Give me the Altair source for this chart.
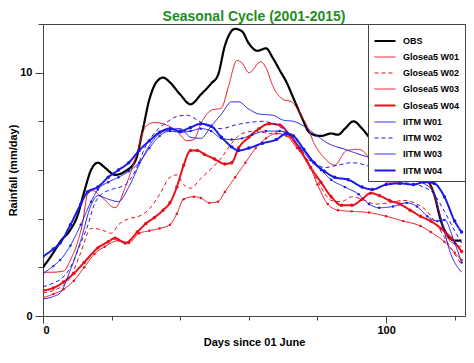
import altair as alt
import pandas as pd

series_names = ["OBS", "Glosea5 W01", "Glosea5 W02", "Glosea5 W03", "Glosea5 W04",
                "IITM W01", "IITM W02", "IITM W03", "IITM W04"]

obs_days = [0,3,5,8,10,12,14,16,18,21,24,27,29,31,33,35,37,40,43,46,49,51,53,56,58,60,62.5,65,67,69,71,73,75,78,81,84,86,88,90.5,93,96,99,102,105,107,110,112,114,116,118,120,122]
obs_vals = [2.0,2.6,3.05,3.55,4.1,5.1,6.0,6.3,6.1,5.8,5.95,6.4,7.6,8.9,9.6,9.8,9.6,9.1,8.7,9.1,9.55,9.9,11.1,11.8,11.7,11.2,10.9,11.0,10.6,10.1,9.6,8.95,8.3,7.5,7.4,7.5,7.45,7.7,8.0,7.7,7.2,6.9,6.2,5.6,5.7,5.85,5.6,5.0,3.9,3.3,3.1,3.1]

g1_days = [0,3,6,8,10,11.5,13,14.5,17,21,24,27,30,32.5,36,39,42,44,46,49,52,54,56.5,58,60,63.5,65,67,70,72.5,75,77,79,82,85,88.5,92,95,98,101,104,108,111,113.5,115.5,118,120,122]
g1_vals = [1.8,1.8,1.85,2.3,3.0,3.8,5.0,5.15,4.9,4.45,5.3,6.5,7.8,7.95,7.85,7.6,7.2,7.25,7.9,8.45,8.55,9.4,10.5,10.4,10.0,10.45,10.2,9.45,8.9,8.8,8.3,7.8,7.1,6.5,6.2,6.8,6.85,6.5,5.6,5.5,5.5,5.65,5.6,5.2,4.25,3.2,2.95,2.85]

g2_days = [0,4,8,11,14,17,20,22,25,28,31,34,37,39,41,43,46,49,52,55,58,62,66,69,72,75,78,81,84,87,90,93,97,101,105,109,112,115,118,122]
g2_vals = [0.95,1.1,1.6,2.6,3.6,3.55,3.4,3.75,4.0,4.1,4.4,5.0,5.7,5.8,5.4,5.25,5.65,6.05,6.5,7.1,7.5,7.6,7.5,7.6,7.4,6.9,6.1,5.3,4.75,4.7,4.9,4.8,4.6,4.65,4.75,4.6,4.3,3.7,3.0,2.1]

g3_days = [0,3,6,9,12,15,18,22,25,28,31,34,37,39,41,44,46,48.5,51,53,56,59,62,65,68,71,74,77,80,83,86,90,95,100,105,110,113,117,120,122]
g3_vals = [0.75,0.9,1.1,1.45,2.0,2.55,2.85,3.1,3.0,3.4,3.5,3.6,3.75,4.2,4.8,4.9,4.85,4.65,4.7,5.1,5.7,6.3,6.9,7.3,7.5,7.4,6.9,6.4,5.4,4.6,4.35,4.3,4.25,4.1,3.9,3.7,3.45,3.05,2.6,2.3]

g4_days = [0,3,6,9,12,16,19,21,24,27.5,30,32.5,35,37,39,41,43,45,47,50,53,55,57,60,63,66,69,72,75,78,81,84,87,90,93,95.5,98,101,104,107,110,113,116,119,122]
g4_vals = [1.05,1.15,1.4,1.75,2.2,2.8,3.05,3.2,3.0,3.45,3.8,4.05,4.35,4.65,5.3,6.2,6.8,6.8,6.65,6.45,6.25,6.3,6.9,7.35,7.7,7.9,7.85,7.4,6.8,6.1,5.5,4.9,4.55,4.55,4.8,5.05,4.95,4.75,4.6,4.35,4.1,3.9,3.6,3.2,2.65]

i1_days = [0,3,5,8,11,14,16,19,22,25,28,31,34,37,40,43,46,49,52,55,57,60,63,67,70,73,76,79,83,88,92,97,102,107,111,114,116,119,122]
i1_vals = [0.7,0.8,0.95,1.9,3.1,4.55,4.95,4.8,4.7,5.3,6.2,7.0,7.5,7.65,7.7,7.35,7.3,7.8,8.3,8.8,8.8,8.5,8.3,8.25,8.05,8.0,7.8,7.5,7.1,6.85,6.65,6.4,5.85,5.65,5.45,5.05,4.0,2.5,1.8]

i2_days = [0,3,5,8,11,13,15,17,20,24,27,30,33,36,39,42,45,48,52,56,60,64,68,71,74,77,82,86,90,95,100,105,110,114,117,120,122]
i2_vals = [1.2,1.35,1.5,2.0,3.0,3.7,4.6,5.0,5.2,5.4,6.0,7.0,7.6,7.95,8.2,8.25,8.05,7.8,7.7,7.85,7.95,8.0,7.85,7.6,7.2,6.65,6.1,6.2,6.3,6.15,5.8,5.5,5.35,5.0,4.3,3.5,3.0]

i3_days = [0,3,5,8,11,14,16,19,22,25,28,31,34,37,40,43,46,49,52,55,58,61,65,69,72,75,78,81,84,88,92,95,98,102,106,109,112,115,117,120,122]
i3_vals = [1.75,2.05,2.3,2.9,3.75,4.7,5.2,5.5,5.7,5.95,6.3,6.9,7.4,7.6,7.55,7.6,7.7,7.6,7.3,7.25,7.3,7.45,7.6,7.6,7.45,6.9,6.4,6.0,5.6,5.3,5.0,4.6,4.45,4.5,4.65,4.5,4.1,3.9,3.95,3.0,2.2]

i4_days = [0,3,5,8,11,13,16,19,22,25,28,31,34,37,40,43,46,49,52,55,57,60,64,68,71,73,76,79,82,85,89,93,96,100,104,108,111,114,117,120,122]
i4_vals = [2.45,2.75,3.0,3.75,4.6,5.1,5.3,5.7,6.0,6.3,6.8,7.2,7.55,7.7,7.6,7.75,7.9,7.8,7.35,6.95,6.8,6.9,7.1,7.25,7.5,7.4,6.85,6.3,5.95,5.7,5.6,5.3,5.2,5.4,5.45,5.4,5.5,5.45,4.9,3.9,3.45]

all_days = [obs_days, g1_days, g2_days, g3_days, g4_days, i1_days, i2_days, i3_days, i4_days]
all_vals = [obs_vals, g1_vals, g2_vals, g3_vals, g4_vals, i1_vals, i2_vals, i3_vals, i4_vals]

RED = "#e8101a"
BLUE = "#1a1ae8"
colors = ["black", RED, RED, RED, RED, BLUE, BLUE, BLUE, BLUE]
dashes = [[1, 0], [1, 0], [4, 3], [1, 0], [1, 0], [1, 0], [4, 3], [1, 0], [1, 0]]
widths = [2.2, 1, 1, 1, 2, 1, 1, 1, 2]

rows = []
for name, ds, vs in zip(series_names, all_days, all_vals):
    for d, v in zip(ds, vs):
        rows.append({"series": name, "day": d, "rain": v})
df = pd.DataFrame(rows)

FONT = "Liberation Sans"

x_enc = alt.X("day:Q",
              scale=alt.Scale(domain=[0, 123], nice=False, zero=False),
              axis=alt.Axis(values=list(range(0, 125, 5)),
                            labelExpr="datum.value % 50 === 0 ? datum.label : ''",
                            tickSize={"condition": {"test": "datum.value % 50 === 0", "value": 7}, "value": 4},
                            title="Days since 01 June", labelPadding=1, titlePadding=1))
y_enc = alt.Y("rain:Q",
              scale=alt.Scale(domain=[0, 12], nice=False, zero=False),
              axis=alt.Axis(values=list(range(0, 13)),
                            labelExpr="datum.value % 5 === 0 ? datum.label : ''",
                            tickSize={"condition": {"test": "datum.value % 5 === 0", "value": 8}, "value": 5},
                            title="Rainfall (mm/day)", labelPadding=3, titlePadding=1))

leg = alt.Legend(title=None)
lines = alt.Chart(df).mark_line(interpolate="monotone", clip=True).encode(
    x=x_enc, y=y_enc,
    color=alt.Color("series:N", scale=alt.Scale(domain=series_names, range=colors), legend=leg),
    strokeDash=alt.StrokeDash("series:N", scale=alt.Scale(domain=series_names, range=dashes), legend=leg),
    strokeWidth=alt.StrokeWidth("series:N", scale=alt.Scale(type="ordinal", domain=series_names, range=widths), legend=leg),
)

def pts(name, color, size):
    return alt.Chart(df).transform_filter(
        alt.FieldEqualPredicate(field="series", equal=name)
    ).mark_circle(size=size, opacity=1, clip=True).encode(
        x="day:Q", y="rain:Q", color=alt.value(color))

layers = [lines,
          pts("Glosea5 W03", RED, 6), pts("Glosea5 W04", RED, 12),
          pts("IITM W03", BLUE, 6), pts("IITM W04", BLUE, 12)]

chart = alt.layer(*layers).properties(
    width=422, height=292,
    title=alt.TitleParams("Seasonal Cycle (2001-2015)", color="#1f8c1f", fontSize=14,
                          font=FONT, fontWeight="bold", anchor="middle", offset=0),
    autosize=alt.AutoSizeParams(type="none"),
    padding={"left": 35, "top": 16, "right": 1, "bottom": 32},
).configure_view(
    stroke="#444", strokeWidth=1
).configure_axis(
    grid=False, labelFont=FONT, labelFontWeight="bold", labelFontSize=11, labelColor="black",
    titleFont=FONT, titleFontWeight="bold", titleFontSize=11, titleColor="black",
    domainColor="#444", tickColor="#444"
).configure_legend(
    orient="top-right", offset=0, strokeColor="#444", fillColor="white", padding=5,
    labelFont=FONT, labelFontSize=9, labelFontWeight="bold", labelColor="black",
    symbolType="stroke", symbolSize=441, rowPadding=-11, labelOffset=6
)

chart.save("out.html", embed_options={"renderer": "svg", "actions": False})
